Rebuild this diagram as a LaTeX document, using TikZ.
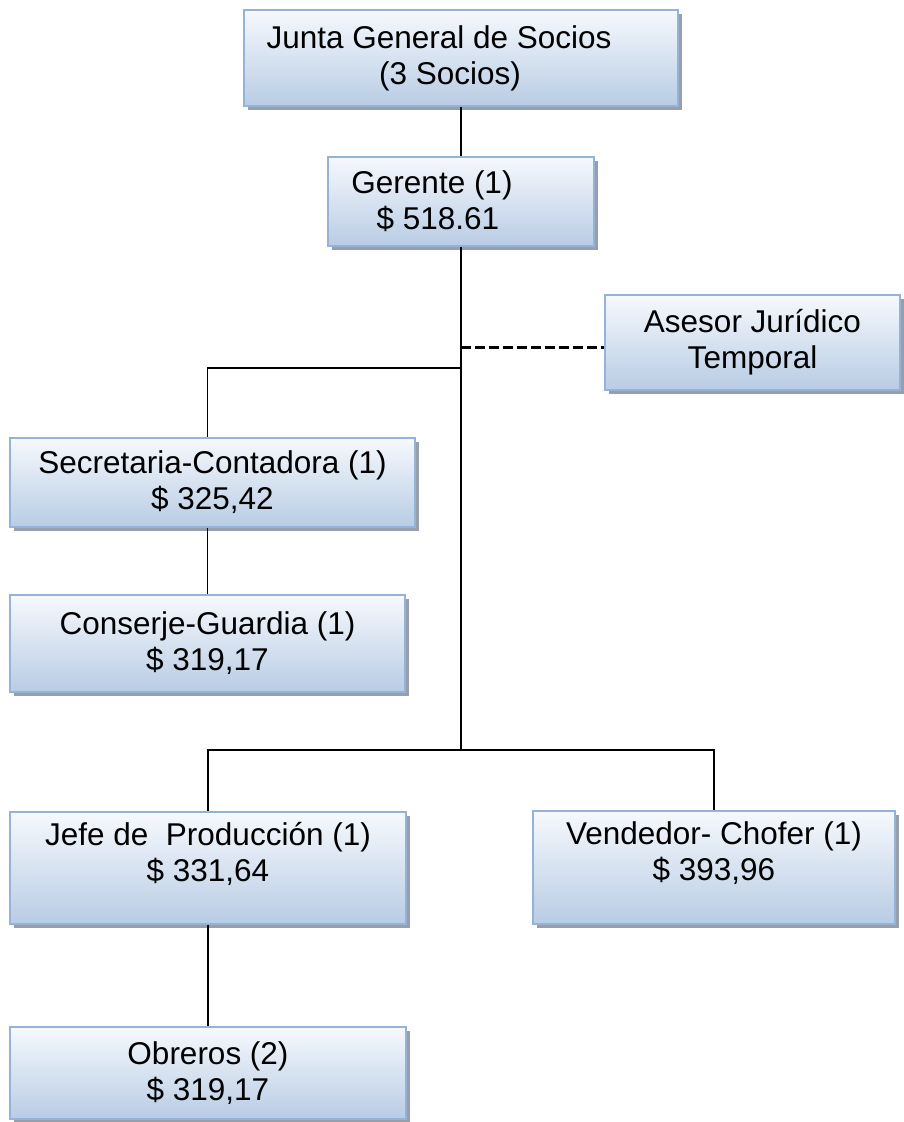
\documentclass[tikz,border=0pt]{standalone}
\usepackage{fontspec}
\setmainfont{Liberation Sans}
\usetikzlibrary{shadows}
\definecolor{boxtop}{RGB}{246,249,253}
\definecolor{boxbottom}{RGB}{184,204,228}
\definecolor{boxline}{RGB}{149,179,215}
\definecolor{boxshade}{RGB}{150,159,171}
\tikzset{
  orgbox/.style={
    draw=boxline,
    line width=1.3pt,
    top color=boxtop,
    bottom color=boxbottom,
    drop shadow={shadow xshift=4pt, shadow yshift=-4pt, fill=boxshade, opacity=1},
    align=center,
    inner sep=2pt,
    font=\fontsize{31.5}{36}\selectfont
  },
  linkline/.style={
    draw=black,
    line width=1.8pt
  },
  dashline/.style={
    draw=black,
    line width=3pt,
    dash pattern=on 10pt off 4pt
  }
}

\begin{document}
\begin{tikzpicture}[x=1pt,y=-1pt]
  \useasboundingbox (0,0) rectangle (903,1122);
  \node[orgbox, minimum width=434pt, minimum height=96pt] (junta) at (461,58)
    {Junta General de Socios\hspace*{44pt}\\(3 Socios)\hspace*{22pt}};
  \node[orgbox, minimum width=266pt, minimum height=89pt] (gerente) at (461,201.5)
    {Gerente (1)\hspace*{58pt}\\\$ 518.61\hspace*{46pt}};
  \node[orgbox, minimum width=295pt, minimum height=95pt] (asesor) at (752.5,342.5)
    {Asesor Jurídico\\Temporal};
  \node[orgbox, minimum width=405pt, minimum height=89pt] (secre) at (212.5,482.5)
    {Secretaria-Contadora (1)\\\$ 325,42};
  \node[orgbox, minimum width=395pt, minimum height=97pt] (conserje) at (207.5,643.5)
    {Conserje-Guardia (1)\\\$ 319,17};
  \node[orgbox, minimum width=396pt, minimum height=112pt] (jefe) at (208,868)
    {Jefe de\ \ Producción (1)\\\$ 331,64\\[-14pt]\strut};
  \node[orgbox, minimum width=362pt, minimum height=113pt] (vendedor) at (714,867.5)
    {Vendedor- Chofer (1)\\\$ 393,96\\[-14pt]\strut};
  \node[orgbox, minimum width=396pt, minimum height=92pt] (obreros) at (208,1073)
    {Obreros (2)\\\$ 319,17};

  \coordinate (tap) at (461,347);
  \coordinate (split) at (461,368);
  \coordinate (bus) at (461,750);
  \draw[linkline] (junta) -- (gerente);
  \draw[linkline] (gerente) -- (bus);
  \draw[dashline] (tap) -- (tap -| asesor.west);
  \draw[linkline] (split) -| (secre.north -| conserje.north);
  \draw[linkline] (secre.south -| conserje.north) -- (conserje);
  \draw[linkline] (bus) -| (jefe.north);
  \draw[linkline] (bus) -| (vendedor.north);
  \draw[linkline] (jefe) -- (obreros);
\end{tikzpicture}
\end{document}
